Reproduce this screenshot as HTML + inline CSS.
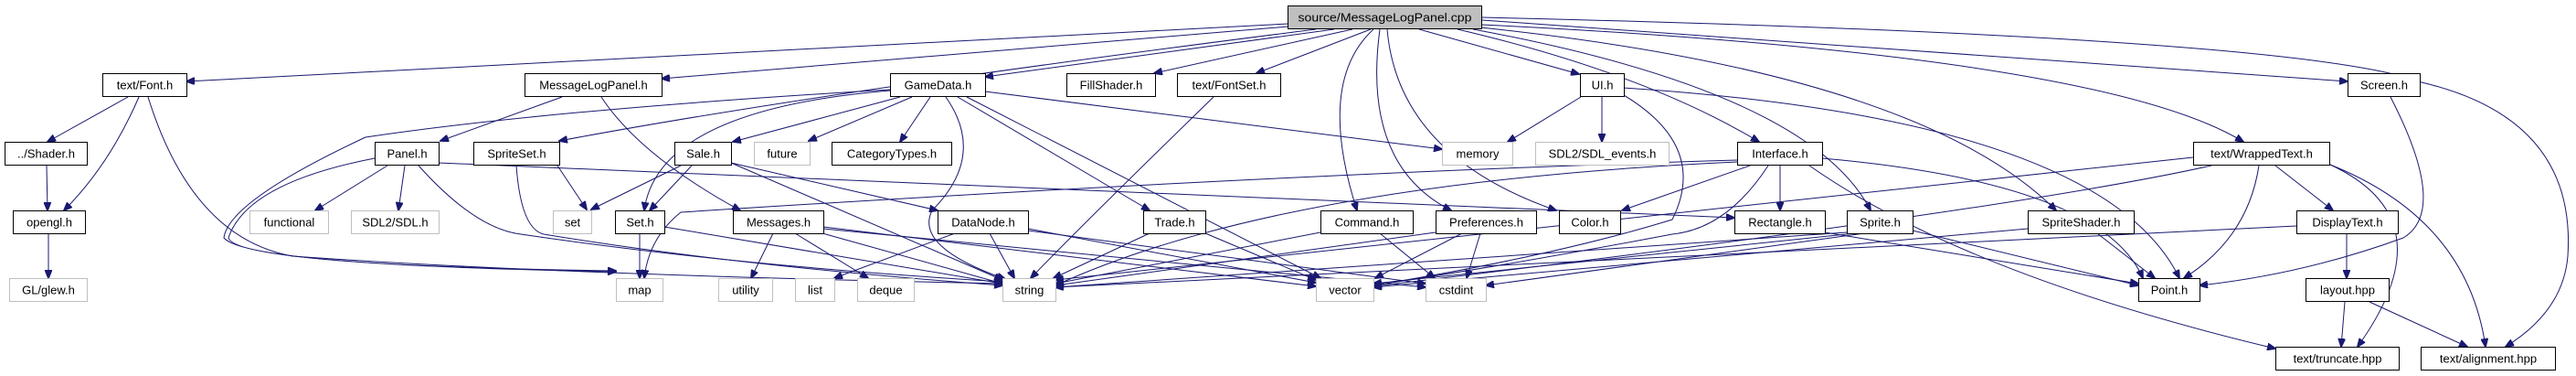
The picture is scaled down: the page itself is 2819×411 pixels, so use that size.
<!DOCTYPE html>
<html><head><meta charset="utf-8"><style>
html,body{margin:0;padding:0;background:#fff;}
svg{display:block;}
text{font-family:"Liberation Sans","DejaVu Sans",sans-serif;font-size:13px;fill:#000;}
.n{fill:#fff;stroke:#000;stroke-width:1;}
.g{fill:#fff;stroke:#bfbfbf;stroke-width:1;}
.e{fill:none;stroke:#191970;stroke-width:1;}
</style></head><body>
<svg width="2819" height="411" viewBox="0 0 2819 411" xmlns="http://www.w3.org/2000/svg">
<defs><marker id="a" markerWidth="10" markerHeight="8" refX="9" refY="4" orient="auto" markerUnits="userSpaceOnUse"><path d="M0,0 L10,4 L0,8 z" fill="#191970" stroke="#191970"/></marker></defs>
<g class="e" marker-end="url(#a)">
<path d="M1410,26 L204,89"/>
<path d="M1410,29 L724,86"/>
<path d="M1440,32 Q900,100 612,154"/>
<path d="M1460,32 L1078,84"/>
<path d="M1480,32 L1263,80"/>
<path d="M1500,32 L1375,80"/>
<path d="M1503,32 Q1440,90 1485,230"/>
<path d="M1510,32 Q1490,180 1588,230"/>
<path d="M1518,32 Q1530,170 1703,230"/>
<path d="M1553,32 L1728,81"/>
<path d="M1595,32 Q1800,80 1925,155"/>
<path d="M1612,32 Q1980,100 2047,230"/>
<path d="M1620,30 Q2100,80 2250,230"/>
<path d="M1622,27 Q2300,60 2455,155"/>
<path d="M1622,22 L2569,89"/>
<path d="M1622,19 Q2520,40 2650,90 Q2820,130 2810,280 Q2805,340 2742,379"/>
<path d="M140,106 L52,155"/>
<path d="M152,106 Q120,180 70,230"/>
<path d="M162,106 Q210,260 320,280 Q600,300 1097,310"/>
<path d="M51,181 L52,230"/>
<path d="M53,255 L53,304"/>
<path d="M615,106 L482,154"/>
<path d="M658,106 Q700,170 810,230"/>
<path d="M424,181 L345,230"/>
<path d="M443,181 L436,230"/>
<path d="M410,173 Q270,200 250,260 Q260,290 674,296"/>
<path d="M458,181 Q520,250 570,256 Q800,290 1097,308"/>
<path d="M480,178 L1898,238"/>
<path d="M610,181 L642,229"/>
<path d="M565,181 Q570,250 595,256 Q800,290 1097,312"/>
<path d="M974,98 Q600,120 400,150 Q250,220 245,260 Q270,290 674,297"/>
<path d="M985,106 L802,155"/>
<path d="M998,106 L885,154"/>
<path d="M1018,106 L985,155"/>
<path d="M1035,106 Q1080,170 1020,230 Q1000,270 1100,305"/>
<path d="M974,99 Q720,120 705,230"/>
<path d="M1048,106 L1258,230"/>
<path d="M1058,106 L1445,304"/>
<path d="M1078,100 L1578,163"/>
<path d="M745,181 L647,229"/>
<path d="M757,181 L711,230"/>
<path d="M800,178 L1097,306"/>
<path d="M800,178 L1026,230"/>
<path d="M700,255 L700,304"/>
<path d="M727,248 L1097,310"/>
<path d="M846,255 L822,304"/>
<path d="M870,255 L950,304"/>
<path d="M900,255 L1097,310"/>
<path d="M901,248 L1440,313"/>
<path d="M901,250 L1560,314"/>
<path d="M1045,255 L913,304"/>
<path d="M1083,255 L1110,304"/>
<path d="M1125,250 L1440,309"/>
<path d="M1125,252 L1560,310"/>
<path d="M1258,255 L1153,304"/>
<path d="M1319,255 L1440,306"/>
<path d="M1328,106 Q1180,250 1128,304"/>
<path d="M1730,106 L1650,155"/>
<path d="M1753,106 L1753,155"/>
<path d="M1777,104 Q1870,160 1830,240 Q1700,280 1503,312"/>
<path d="M1777,96 Q2300,130 2385,304"/>
<path d="M1901,175 Q1400,190 745,232 Q710,260 705,304"/>
<path d="M1901,177 Q1400,200 1155,312"/>
<path d="M1915,181 L1775,230"/>
<path d="M1948,181 L1948,230"/>
<path d="M1935,181 Q1890,250 1830,256 Q1650,290 1503,312"/>
<path d="M1994,173 Q2300,200 2345,304"/>
<path d="M1980,181 Q2150,300 2490,381"/>
<path d="M1445,254 L1155,310"/>
<path d="M1510,255 L1570,304"/>
<path d="M1571,254 L1155,312"/>
<path d="M1600,255 L1505,304"/>
<path d="M1620,255 L1605,304"/>
<path d="M1997,254 L2340,310"/>
<path d="M2021,254 L1155,314"/>
<path d="M2030,255 L1503,310"/>
<path d="M2040,255 L1626,312"/>
<path d="M2093,252 L2340,312"/>
<path d="M2219,250 L1503,314"/>
<path d="M2295,255 L2358,304"/>
<path d="M2400,172 L1155,306"/>
<path d="M2420,181 Q2200,230 1503,313"/>
<path d="M2472,181 Q2460,260 2390,304"/>
<path d="M2490,181 L2553,230"/>
<path d="M2550,180 Q2680,240 2580,379"/>
<path d="M2550,180 Q2700,240 2720,379"/>
<path d="M2513,247 L1155,314"/>
<path d="M2568,255 L2568,304"/>
<path d="M2566,330 L2562,379"/>
<path d="M2593,330 L2700,379"/>
<path d="M2616,106 Q2680,230 2630,260 Q2520,300 2407,312"/>
</g>
<g>
<rect x="1409.5" y="6.5" width="212" height="25" fill="#bfbfbf" stroke="#000"/>
<text x="1515.5" y="23.5" text-anchor="middle" textLength="190" lengthAdjust="spacingAndGlyphs">source/MessageLogPanel.cpp</text>

<rect class="n" x="112.5" y="80.5" width="92" height="25"/><text x="158.5" y="97.5" text-anchor="middle">text/Font.h</text>
<rect class="n" x="574.5" y="80.5" width="150" height="25"/><text x="649.5" y="97.5" text-anchor="middle">MessageLogPanel.h</text>
<rect class="n" x="974.5" y="80.5" width="104" height="25"/><text x="1026.5" y="97.5" text-anchor="middle">GameData.h</text>
<rect class="n" x="1167.5" y="80.5" width="97" height="25"/><text x="1216" y="97.5" text-anchor="middle">FillShader.h</text>
<rect class="n" x="1288.5" y="80.5" width="113" height="25"/><text x="1345" y="97.5" text-anchor="middle">text/FontSet.h</text>
<rect class="n" x="1729.5" y="80.5" width="48" height="25"/><text x="1753.5" y="97.5" text-anchor="middle">UI.h</text>
<rect class="n" x="2569.5" y="80.5" width="79" height="25"/><text x="2609" y="97.5" text-anchor="middle">Screen.h</text>

<rect class="n" x="5.5" y="155.5" width="90" height="25"/><text x="50.5" y="172.5" text-anchor="middle">../Shader.h</text>
<rect class="n" x="410.5" y="155.5" width="70" height="25"/><text x="445.5" y="172.5" text-anchor="middle">Panel.h</text>
<rect class="n" x="518.5" y="155.5" width="94" height="25"/><text x="565.5" y="172.5" text-anchor="middle">SpriteSet.h</text>
<rect class="n" x="738.5" y="155.5" width="62" height="25"/><text x="769.5" y="172.5" text-anchor="middle">Sale.h</text>
<rect class="g" x="825.5" y="155.5" width="61" height="25"/><text x="856" y="172.5" text-anchor="middle">future</text>
<rect class="n" x="910.5" y="155.5" width="131" height="25"/><text x="976" y="172.5" text-anchor="middle">CategoryTypes.h</text>
<rect class="g" x="1578.5" y="155.5" width="77" height="25"/><text x="1617" y="172.5" text-anchor="middle">memory</text>
<rect class="g" x="1680.5" y="155.5" width="146" height="25"/><text x="1753.5" y="172.5" text-anchor="middle">SDL2/SDL_events.h</text>
<rect class="n" x="1901.5" y="155.5" width="93" height="25"/><text x="1948" y="172.5" text-anchor="middle">Interface.h</text>
<rect class="n" x="2400.5" y="155.5" width="149" height="25"/><text x="2475" y="172.5" text-anchor="middle">text/WrappedText.h</text>

<rect class="n" x="14.5" y="230.5" width="79" height="25"/><text x="54" y="247.5" text-anchor="middle">opengl.h</text>
<rect class="g" x="273.5" y="230.5" width="86" height="25"/><text x="316.5" y="247.5" text-anchor="middle">functional</text>
<rect class="g" x="384.5" y="230.5" width="96" height="25"/><text x="432.5" y="247.5" text-anchor="middle">SDL2/SDL.h</text>
<rect class="g" x="605.5" y="230.5" width="42" height="25"/><text x="626.5" y="247.5" text-anchor="middle">set</text>
<rect class="n" x="673.5" y="230.5" width="54" height="25"/><text x="700.5" y="247.5" text-anchor="middle">Set.h</text>
<rect class="n" x="802.5" y="230.5" width="99" height="25"/><text x="852" y="247.5" text-anchor="middle">Messages.h</text>
<rect class="n" x="1026.5" y="230.5" width="99" height="25"/><text x="1076" y="247.5" text-anchor="middle">DataNode.h</text>
<rect class="n" x="1251.5" y="230.5" width="68" height="25"/><text x="1285.5" y="247.5" text-anchor="middle">Trade.h</text>
<rect class="n" x="1445.5" y="230.5" width="101" height="25"/><text x="1496" y="247.5" text-anchor="middle">Command.h</text>
<rect class="n" x="1571.5" y="230.5" width="110" height="25"/><text x="1626.5" y="247.5" text-anchor="middle">Preferences.h</text>
<rect class="n" x="1706.5" y="230.5" width="67" height="25"/><text x="1740" y="247.5" text-anchor="middle">Color.h</text>
<rect class="n" x="1898.5" y="230.5" width="99" height="25"/><text x="1948" y="247.5" text-anchor="middle">Rectangle.h</text>
<rect class="n" x="2021.5" y="230.5" width="72" height="25"/><text x="2057.5" y="247.5" text-anchor="middle">Sprite.h</text>
<rect class="n" x="2219.5" y="230.5" width="116" height="25"/><text x="2277.5" y="247.5" text-anchor="middle">SpriteShader.h</text>
<rect class="n" x="2513.5" y="230.5" width="111" height="25"/><text x="2569" y="247.5" text-anchor="middle">DisplayText.h</text>

<rect class="g" x="10.5" y="304.5" width="85" height="25"/><text x="53" y="321.5" text-anchor="middle">GL/glew.h</text>
<rect class="g" x="674.5" y="304.5" width="51" height="25"/><text x="700" y="321.5" text-anchor="middle">map</text>
<rect class="g" x="786.5" y="304.5" width="59" height="25"/><text x="816" y="321.5" text-anchor="middle">utility</text>
<rect class="g" x="870.5" y="304.5" width="43" height="25"/><text x="892" y="321.5" text-anchor="middle">list</text>
<rect class="g" x="938.5" y="304.5" width="62" height="25"/><text x="969.5" y="321.5" text-anchor="middle">deque</text>
<rect class="g" x="1097.5" y="304.5" width="58" height="25"/><text x="1126.5" y="321.5" text-anchor="middle">string</text>
<rect class="g" x="1440.5" y="304.5" width="63" height="25"/><text x="1472" y="321.5" text-anchor="middle">vector</text>
<rect class="g" x="1560.5" y="304.5" width="66" height="25"/><text x="1593.5" y="321.5" text-anchor="middle">cstdint</text>
<rect class="n" x="2340.5" y="304.5" width="67" height="25"/><text x="2374" y="321.5" text-anchor="middle">Point.h</text>
<rect class="n" x="2523.5" y="304.5" width="91" height="25"/><text x="2569" y="321.5" text-anchor="middle">layout.hpp</text>

<rect class="n" x="2490.5" y="379.5" width="135" height="25"/><text x="2558" y="396.5" text-anchor="middle">text/truncate.hpp</text>
<rect class="n" x="2649.5" y="379.5" width="147" height="25"/><text x="2723" y="396.5" text-anchor="middle">text/alignment.hpp</text>
</g>
</svg>
</body></html>
